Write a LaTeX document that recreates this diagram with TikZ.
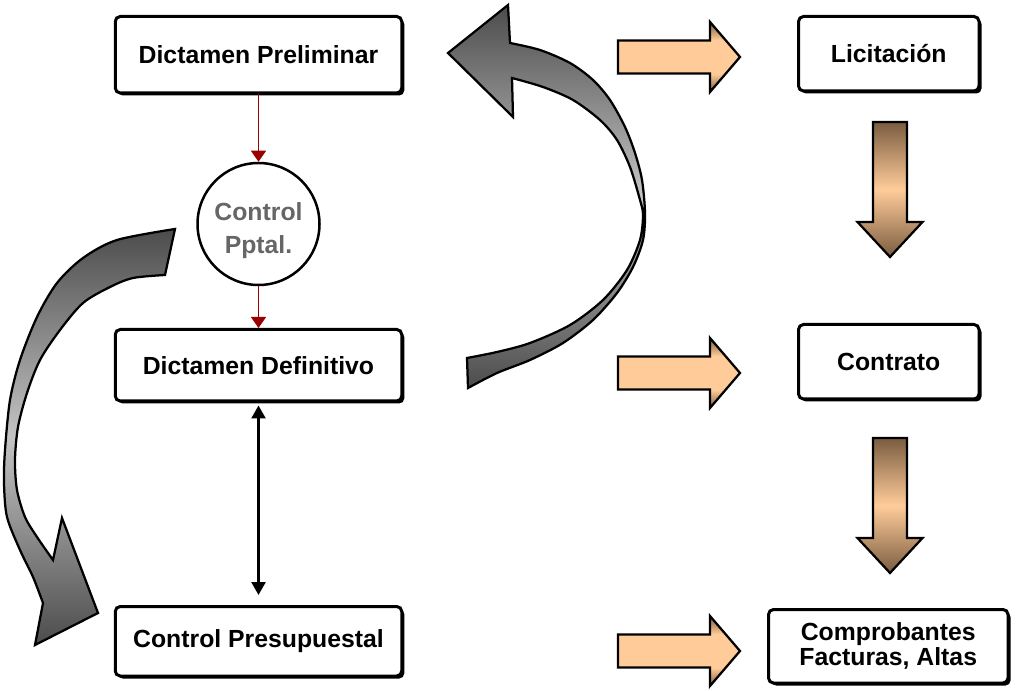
\documentclass[tikz,border=0pt]{standalone}
\usepackage{fontspec}
\setmainfont{Liberation Sans}
\usetikzlibrary{
  positioning,
  arrows.meta,
  shadows}

\definecolor{linkred}{HTML}{990000}
\definecolor{pptalgray}{HTML}{666666}
\definecolor{peach}{HTML}{FFCC99}
\definecolor{peachdark}{HTML}{7A5C40}
\definecolor{steeldark}{HTML}{4C4C4C}
\definecolor{steellight}{HTML}{C4C4C4}

\pgfdeclareverticalshading{copper}{100bp}{%
  color(0bp)=(peachdark); color(25bp)=(peachdark);
  color(38bp)=(peach); color(62bp)=(peach);
  color(75bp)=(peachdark); color(100bp)=(peachdark)}

\tikzset{
  stagebox/.style={
    rectangle,
    rounded corners=0.1cm,
    draw=black,
    line width=0.06cm,
    fill=white,
    general shadow={fill=black, shadow xshift=0.05cm, shadow yshift=-0.05cm},
    font=\fontsize{14.1}{14.2}\selectfont\bfseries,
    align=center,
    inner sep=0pt
  },
  budgetcircle/.style={
    circle,
    draw=black,
    line width=0.05cm,
    fill=white,
    minimum size=2.44cm,
    inner sep=0pt,
    text=pptalgray,
    font=\fontsize{14.1}{18.8}\selectfont\bfseries,
    align=center
  },
  redlink/.style={
    draw=linkred,
    line width=0.025cm,
    -{Triangle[width=0.3cm,length=0.22cm]}
  },
  bothlink/.style={
    draw=black,
    line width=0.05cm,
    {Triangle[width=0.28cm,length=0.26cm]}-{Triangle[width=0.28cm,length=0.26cm]}
  },
  copperright/.style={
    draw=black,
    line width=0.045cm,
    shading=copper
  },
  copperdown/.style={
    draw=black,
    line width=0.045cm,
    top color=peachdark,
    bottom color=peachdark,
    middle color=peach
  },
  steelarrow/.style={
    draw=black,
    line width=0.045cm,
    top color=steeldark,
    bottom color=steeldark,
    middle color=steellight
  }
}

\begin{document}
\begin{tikzpicture}%
  \useasboundingbox (0,0) rectangle (20.36,13.8);

  % Curved arrow, left
  \path[steelarrow]
    plot[smooth] coordinates {
      (3.5,9.22) (2.34,9.0) (1.66,8.64) (1.14,8.14) (0.74,7.46)
      (0.4,6.6) (0.2,5.8) (0.1,4.8) (0.08,4.14) (0.14,3.46)
      (0.4,2.8) (0.66,2.26) (0.86,1.74)}
    -- (0.7,0.9) -- (1.96,1.54) -- (1.24,3.44)
    -- plot[smooth] coordinates {
      (1.06,2.6) (0.74,3.06) (0.5,3.46) (0.34,4.0) (0.3,4.6)
      (0.36,5.26) (0.54,5.94) (0.8,6.6) (1.2,7.2) (1.66,7.74)
      (2.2,8.06) (2.66,8.24) (3.3,8.3)}
    -- cycle;

  % Curved arrow, right
  \path[steelarrow]
    plot[smooth] coordinates {
      (10.2,12.94) (10.8,12.8) (11.4,12.54) (11.86,12.2) (12.2,11.8)
      (12.5,11.26) (12.7,10.74) (12.84,10.2) (12.9,9.54) (12.86,9.0)
      (12.66,8.46) (12.34,7.94) (11.86,7.4) (11.26,6.94) (10.6,6.6)
      (9.94,6.34) (9.36,6.04)}
    -- plot[smooth] coordinates {
      (9.34,6.64) (9.94,6.76) (10.6,6.94) (11.4,7.3) (12.06,7.8)
      (12.54,8.4) (12.8,9.0) (12.86,9.5) (12.8,9.8) (12.6,10.46)
      (12.34,11.0) (12.0,11.4) (11.46,11.8) (10.86,12.06) (10.24,12.24)}
    -- (10.26,11.46) -- (8.96,12.74) -- (10.16,13.7) -- cycle;

  % Left column
  \node[
    stagebox,
    minimum width=5.73cm,
    minimum height=1.53cm
  ] (prelim) at (5.17,12.705) {Dictamen Preliminar};

  \node[budgetcircle] (pptal) at (5.17,9.32) {\rule{0pt}{18pt}Control\\Pptal.};

  \node[
    stagebox,
    minimum width=5.73cm,
    minimum height=1.43cm
  ] (defin) at (5.17,6.495) {Dictamen Definitivo};

  \node[
    stagebox,
    minimum width=5.73cm,
    minimum height=1.39cm
  ] (presup) at (5.17,0.975) {Control Presupuestal};

  \draw[redlink] (prelim) -- (pptal);
  \draw[redlink] (pptal) -- (defin);
  \draw[bothlink, shorten <=0.06cm, shorten >=0.2cm] (defin) -- (presup);

  % Right column
  \node[
    stagebox,
    minimum width=3.61cm,
    minimum height=1.49cm
  ] (licit) at (17.775,12.725) {Licitación};

  \node[
    stagebox,
    minimum width=3.61cm,
    minimum height=1.49cm
  ] (contr) at (17.775,6.565) {Contrato};

  \node[
    stagebox,
    minimum width=4.79cm,
    minimum height=1.47cm
  ] (compr) at (17.765,0.875) {Comprobantes\\Facturas, Altas};

  % Arrows to the right
  \path[copperright]
    (12.36,12.66) --++ (90:0.33) --++ (0:1.84) --++ (90:0.37)
    --++ (0.6,-0.7) --++ (-0.6,-0.7) --++ (90:0.37) --++ (180:1.84) -- cycle;

  \path[copperright]
    (12.36,6.34) --++ (90:0.33) --++ (0:1.84) --++ (90:0.37)
    --++ (0.6,-0.7) --++ (-0.6,-0.7) --++ (90:0.37) --++ (180:1.84) -- cycle;

  \path[copperright]
    (12.36,0.78) --++ (90:0.33) --++ (0:1.84) --++ (90:0.37)
    --++ (0.6,-0.7) --++ (-0.6,-0.7) --++ (90:0.37) --++ (180:1.84) -- cycle;

  % Arrows downwards
  \path[copperdown]
    (17.8,11.36) --++ (0:0.34) --++ (270:2.0) --++ (0:0.31)
    --++ (-0.65,-0.7) --++ (-0.65,0.7) --++ (0:0.31) --++ (90:2.0) -- cycle;

  \path[copperdown]
    (17.8,5.04) --++ (0:0.34) --++ (270:2.0) --++ (0:0.31)
    --++ (-0.65,-0.7) --++ (-0.65,0.7) --++ (0:0.31) --++ (90:2.0) -- cycle;

\end{tikzpicture}
\end{document}
